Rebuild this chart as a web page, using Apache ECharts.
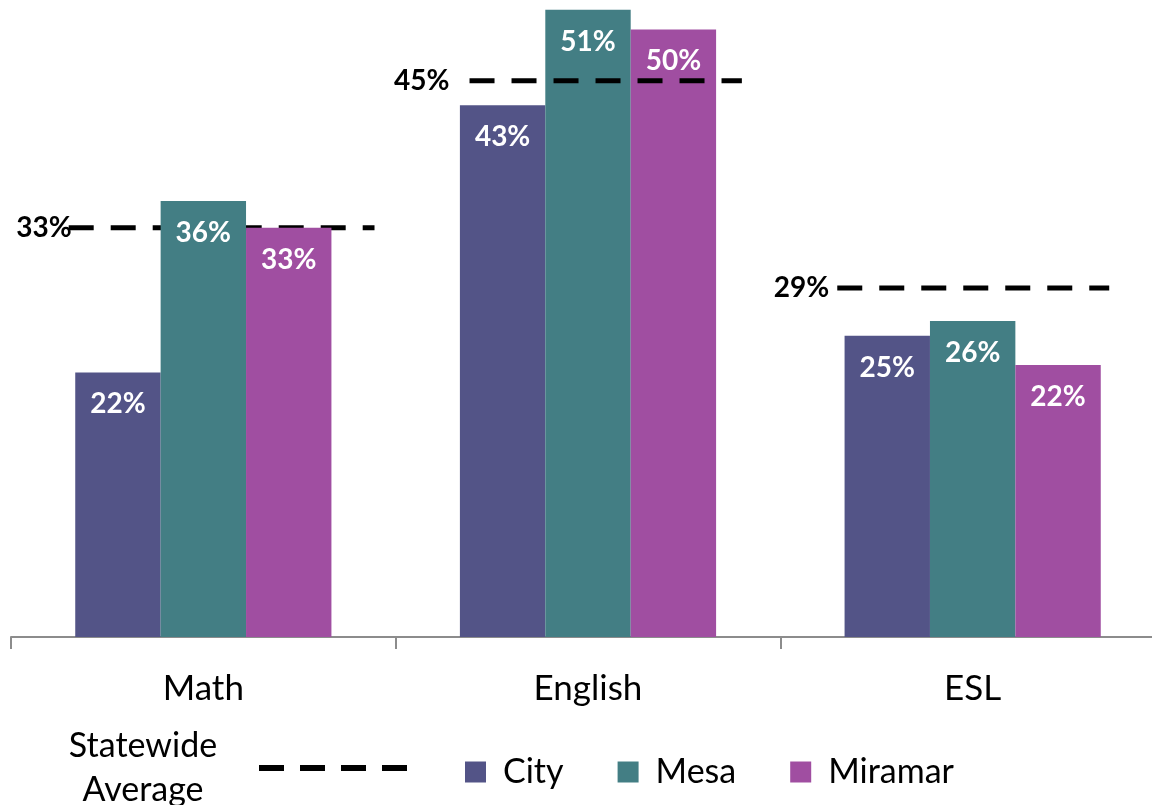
<!DOCTYPE html>
<html>
<head>
<meta charset="utf-8">
<script src="https://cdn.jsdelivr.net/npm/echarts@6/dist/echarts.min.js"></script>
<style>
  html, body { margin: 0; padding: 0; background: #fff; }
  #chart { width: 1152px; height: 805px; }
</style>
</head>
<body>
<div id="chart"></div>
<script>
// data
const categories = ['Math', 'English', 'ESL'];
const cityValues = [21.6, 43.4, 24.6];
const mesaValues = [35.6, 51.2, 25.8];
const miramarValues = [33.4, 49.6, 22.2];
const statewideAvg = [33.4, 45.4, 28.5];

// layout of the dashed average line in each band: [start, end] as band fraction, label gap in px, drawn above bars
const avgSpan = [[0.15, 0.945], [0.192, 0.9], [0.148, 0.855]];
const avgLabelGap = [-3, 20, 8];
const avgOnTop = [false, true, true];

const dashIcon = 'path://M0,0H25V6H0Z M41,0H66V6H41Z M82,0H107V6H82Z M123,0H148V6H123Z';
const FONT = 'Lato';

function barSeries(name, values, color) {
    return {
        name: name,
        type: 'bar',
        data: values,
        z: 2,
        barGap: '0%',
        barCategoryGap: '33.4%',
        itemStyle: { color: color },
        label: {
            show: true,
            position: 'insideTop',
            distance: 18,
            color: '#fff',
            fontFamily: FONT,
            fontWeight: 'bold',
            fontSize: 28,
            formatter: p => Math.round(p.value) + '%'
        }
    };
}

function avgSeries(onTop) {
    return {
        name: 'Statewide Average',
        type: 'custom',
        z: onTop ? 3 : 1,
        itemStyle: { color: '#000' },
        encode: { x: 0, y: 1 },
        data: statewideAvg.map((v, i) => [i, v]).filter((d, i) => avgOnTop[i] === onTop),
        renderItem: function (params, api) {
            const idx = api.value(0);
            const val = api.value(1);
            const pt = api.coord([idx, val]);
            const band = api.size([1, 0])[0];
            const start = pt[0] - band / 2;
            const x1 = start + avgSpan[idx][0] * band;
            const x2 = start + avgSpan[idx][1] * band;
            return {
                type: 'group',
                children: [
                    {
                        type: 'line',
                        shape: { x1: x1, y1: pt[1], x2: x2, y2: pt[1] },
                        style: { stroke: '#000', lineWidth: 5, lineDash: [25, 17] }
                    },
                    {
                        type: 'text',
                        z2: 10,
                        style: {
                            text: Math.round(val) + '%',
                            x: x1 - avgLabelGap[idx],
                            y: pt[1],
                            align: 'right',
                            verticalAlign: 'middle',
                            fill: '#000',
                            font: 'bold 28px ' + FONT
                        }
                    }
                ]
            };
        }
    };
}

document.addEventListener('DOMContentLoaded', function () {
    const chart = echarts.init(document.getElementById('chart'));
    const option = {
        animation: false,
        grid: { left: 11, right: -13, top: 0, bottom: 168, containLabel: false, outerBoundsMode: 'none' },
        xAxis: {
            type: 'category',
            data: categories,
            boundaryGap: true,
            axisLine: { lineStyle: { color: '#8c8c8c', width: 2 } },
            axisTick: { show: true, length: 12, lineStyle: { color: '#8c8c8c', width: 2 } },
            axisLabel: { margin: 34, color: '#000', fontFamily: FONT, fontSize: 35 }
        },
        yAxis: {
            type: 'value',
            min: 0,
            max: 52,
            show: false,
            splitLine: { show: false }
        },
        legend: [
            {
                data: [{ name: 'Statewide Average', icon: dashIcon }],
                left: 32,
                top: 729,
                padding: 0,
                align: 'right',
                itemWidth: 148,
                itemHeight: 6,
                formatter: () => '{s|Statewide}\n{s|Average}',
                textStyle: {
                    color: '#000',
                    fontFamily: FONT,
                    fontSize: 34,
                    rich: { s: { width: 222, align: 'center', fontFamily: FONT, fontSize: 34, lineHeight: 44 } }
                }
            },
            {
                data: [
                    { name: 'City', icon: 'rect' },
                    { name: 'Mesa', icon: 'rect' },
                    { name: 'Miramar', icon: 'rect' }
                ],
                left: 465,
                top: 752,
                padding: 0,
                itemWidth: 21,
                itemHeight: 21,
                itemGap: 54,
                textStyle: { color: '#000', fontFamily: FONT, fontSize: 34, lineHeight: 40, padding: [0, 0, 0, 12] }
            }
        ],
        series: [
            barSeries('City', cityValues, '#535487'),
            barSeries('Mesa', mesaValues, '#437e84'),
            barSeries('Miramar', miramarValues, '#a04ea1'),
            avgSeries(false),
            avgSeries(true)
        ]
    };
    chart.setOption(option);
});
</script>
</body>
</html>
